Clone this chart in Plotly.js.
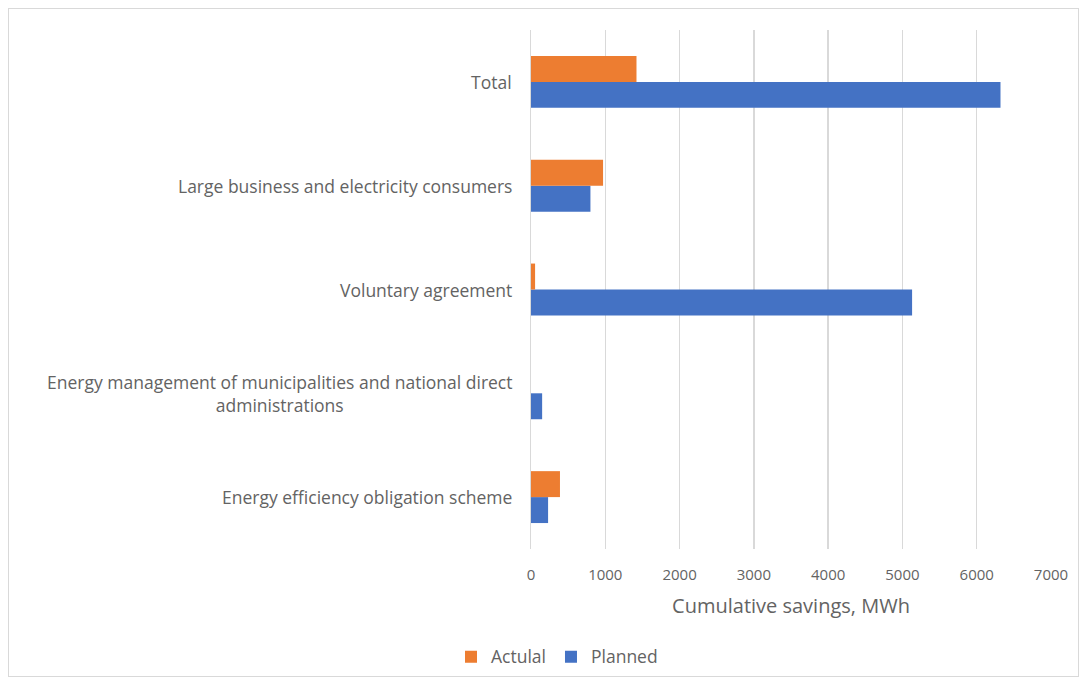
<!DOCTYPE html>
<html><head><meta charset="utf-8">
<script src="https://cdn.plot.ly/plotly-3.0.1.min.js"></script>
<style>
html,body{margin:0;padding:0;background:#fff;}
#wrap{position:relative;width:1086px;height:682px;}
#frame{position:absolute;left:8px;top:8px;width:1071px;height:669px;border:1px solid #d9d9d9;box-sizing:border-box;pointer-events:none;}
#chart{position:absolute;left:0;top:0;width:1086px;height:682px;}
</style></head>
<body><div id="wrap"><div id="chart"></div><div id="frame"></div></div>
<script>
// categories listed bottom to top
const categories = [
  "Energy efficiency obligation scheme",
  "Energy management of municipalities and national direct<br>administrations",
  "Voluntary agreement",
  "Large business and electricity consumers",
  "Total"
];
const actualValues = [390, 0, 55, 970, 1420];
const plannedValues = [230, 150, 5130, 800, 6320];
const xTickValues = [0, 1000, 2000, 3000, 4000, 5000, 6000, 7000];
const seriesNames = ["Actulal", "Planned"];
const xTitle = "Cumulative savings, MWh";

const fontFam = "'Open Sans', Lato, sans-serif";
const grey = "#636363";

const traces = [
  {type:"bar", orientation:"h", name:seriesNames[1], y:categories, x:plannedValues,
   marker:{color:"#4472C4"}},
  {type:"bar", orientation:"h", name:seriesNames[0], y:categories, x:actualValues,
   marker:{color:"#ED7D31"}}
];

const annotations = categories.map(c => ({
  text:c, xref:"paper", yref:"y", x:-0.032, y:c, xanchor:"right", yanchor:"middle",
  align:"center", showarrow:false, font:{family:fontFam, size:17.5, color:grey}
}));

const layout = {
  width:1086, height:682,
  margin:{l:531, r:35, t:30, b:133},
  paper_bgcolor:"#fff", plot_bgcolor:"#fff",
  barmode:"group", bargap:0.5, bargroupgap:0,
  font:{family:fontFam, color:grey},
  xaxis:{range:[0,7000], tickvals:xTickValues, showgrid:true, gridcolor:"#d9d9d9", gridwidth:1.5,
         zeroline:false, showline:false, automargin:false, tickfont:{family:fontFam, size:15, color:grey},
         ticklabelstandoff:15,
         title:{text:xTitle, font:{family:fontFam, size:20, color:grey}, standoff:15}},
  yaxis:{showticklabels:false, showgrid:false, zeroline:false, showline:true, automargin:false,
         linecolor:"#d9d9d9", linewidth:1.5},
  showlegend:true,
  legend:{orientation:"h", x:0.05, xanchor:"center", yref:"container", y:0.037, yanchor:"middle",
          traceorder:"reversed", itemwidth:30, font:{family:fontFam, size:17.5, color:grey}},
  annotations:annotations
};

Plotly.newPlot("chart", traces, layout, {displayModeBar:false, staticPlot:true});
</script></body></html>
